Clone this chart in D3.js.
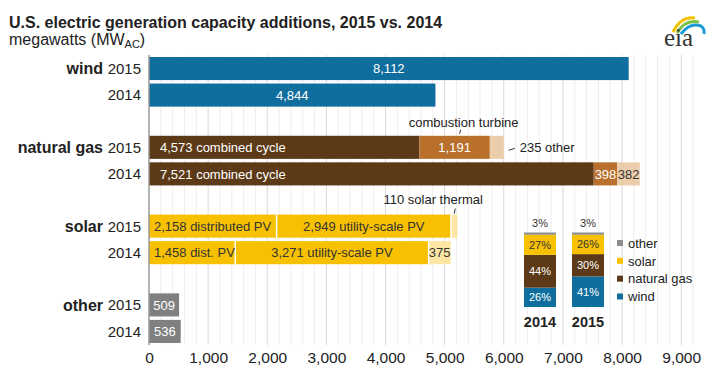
<!DOCTYPE html>
<html>
<head>
<meta charset="utf-8">
<script src="https://cdn.jsdelivr.net/npm/d3@7"></script>
<style>
  body { margin: 0; background: #fff; }
  text { font-family: "Liberation Sans", Arial, sans-serif; }
</style>
</head>
<body>
<div id="chart"></div>
<script>
// values (megawatts AC)
var categories = ["wind", "natural gas", "solar", "other"];
var years = ["2015", "2014"];

var windMW = [8112, 4844];
var gasCombinedCycle = [4573, 7521];
var gasTurbine = [1191, 398];
var gasOther = [235, 382];
var solarDistributed = [2158, 1458];
var solarUtility = [2949, 3271];
var solarThermal = [110, 375];
var otherMW = [509, 536];

var xTicks = [0, 1000, 2000, 3000, 4000, 5000, 6000, 7000, 8000, 9000];

// inset: share of total additions (%)
var shareYears = ["2014", "2015"];
var shareKeys = ["wind", "natural gas", "solar", "other"];
var shareWind = [26, 41];
var shareGas = [44, 30];
var shareSolar = [27, 26];
var shareOther = [3, 3];

function init(){
  var w = 720, h = 377;
  var fmt = d3.format(",");

  var col = {
    wind: "#0f6e9d",
    gasCC: "#5c3a17",
    gasCT: "#b8702c",
    gasOther: "#eccdab",
    solar: "#f7c102",
    solarLight: "#fde6a3",
    other: "#808080"
  };

  var svg = d3.select("#chart").append("svg")
    .attr("width", w)
    .attr("height", h);

  svg.append("text")
    .attr("x", 9).attr("y", 28)
    .style("font-size", "16px").style("font-weight", "bold").style("fill", "#222")
    .text("U.S. electric generation capacity additions, 2015 vs. 2014");

  var sub = svg.append("text")
    .attr("x", 9).attr("y", 45)
    .style("font-size", "16px").style("fill", "#222");
  sub.append("tspan").text("megawatts (MW");
  sub.append("tspan").attr("dy", 3).style("font-size", "11px").text("AC");
  sub.append("tspan").attr("dy", -3).text(")");

  // eia logo
  var logo = svg.append("g").attr("transform", "translate(664,10)");
  logo.append("path").attr("d", "M9,22 Q17,6 31,8").attr("fill", "none").attr("stroke", "#f2c200").attr("stroke-width", 3);
  logo.append("path").attr("d", "M13,23 Q21,9 35,12").attr("fill", "none").attr("stroke", "#7cc242").attr("stroke-width", 3);
  logo.append("path").attr("d", "M17,24 Q26,12 37,16 Q41,19 40,24").attr("fill", "none").attr("stroke", "#1c9ad6").attr("stroke-width", 3);
  logo.append("text").attr("x", 0).attr("y", 36)
    .style("font-family", "'Liberation Serif', 'DejaVu Serif', serif")
    .style("font-size", "25px").style("fill", "#333").text("eia");

  // scales
  var xScale = d3.scaleLinear().domain([0, 9200]).range([149, 693]);
  var yGroup = d3.scaleBand().domain(categories).range([57, 343]).paddingInner(0.37);
  var yYear = d3.scaleBand().domain(years).range([0, yGroup.bandwidth()]).paddingInner(0.13);

  // grid
  var gridVals = d3.range(200, 9201, 200);
  svg.append("g").selectAll("line")
    .data(gridVals)
    .enter().append("line")
    .attr("x1", function(d){ return xScale(d); })
    .attr("x2", function(d){ return xScale(d); })
    .attr("y1", 55).attr("y2", 345)
    .attr("stroke", function(d){ return d % 1000 === 0 ? "#d9d9d9" : "#ededed"; })
    .attr("stroke-width", 1);

  // rows of stacked segments
  function segmentsFor(cat, i){
    if (cat === "wind") return [
      {value: windMW[i], color: col.wind, text: fmt(windMW[i]), align: "middle", fill: "#fff"}
    ];
    if (cat === "natural gas") return [
      {value: gasCombinedCycle[i], color: col.gasCC, text: fmt(gasCombinedCycle[i]) + " combined cycle", align: "start", fill: "#fff"},
      {value: gasTurbine[i], color: col.gasCT, text: fmt(gasTurbine[i]), align: "middle", fill: "#fff"},
      {value: gasOther[i], color: col.gasOther, text: i === 1 ? fmt(gasOther[i]) : null, align: "middle", fill: "#333"}
    ];
    if (cat === "solar") return [
      {value: solarDistributed[i], color: col.solar, text: fmt(solarDistributed[i]) + (i === 0 ? " distributed PV" : " dist. PV"), align: "start", fill: "#333", line: true},
      {value: solarUtility[i], color: col.solar, text: fmt(solarUtility[i]) + " utility-scale PV", align: "middle", fill: "#333", line: true},
      {value: solarThermal[i], color: col.solarLight, text: i === 1 ? fmt(solarThermal[i]) : null, align: "middle", fill: "#333"}
    ];
    return [
      {value: otherMW[i], color: col.other, text: fmt(otherMW[i]), align: "middle", fill: "#fff"}
    ];
  }

  var rows = [];
  categories.forEach(function(cat){
    years.forEach(function(yr, yi){
      var parts = segmentsFor(cat, yi);
      var acc = 0;
      parts.forEach(function(p){ p.x0 = acc; acc += p.value; p.x1 = acc; });
      rows.push({cat: cat, year: yr, parts: parts, y: yGroup(cat) + yYear(yr)});
    });
  });

  var bh = yYear.bandwidth();

  var rowG = svg.append("g").selectAll("g")
    .data(rows)
    .enter().append("g")
    .attr("transform", function(d){ return "translate(0," + d.y + ")"; });

  rowG.selectAll("rect")
    .data(function(d){ return d.parts; })
    .enter().append("rect")
    .attr("x", function(d){ return xScale(d.x0); })
    .attr("width", function(d){ return xScale(d.x1) - xScale(d.x0); })
    .attr("y", 0)
    .attr("height", bh)
    .attr("fill", function(d){ return d.color; });

  // white separators between solar PV pieces
  rowG.selectAll("line.sep")
    .data(function(d){ return d.parts.filter(function(p){ return p.line; }); })
    .enter().append("line")
    .attr("class", "sep")
    .attr("x1", function(d){ return xScale(d.x1); })
    .attr("x2", function(d){ return xScale(d.x1); })
    .attr("y1", 0).attr("y2", bh)
    .attr("stroke", "#fff").attr("stroke-width", 1.5);

  rowG.selectAll("text.seg")
    .data(function(d){ return d.parts.filter(function(p){ return p.text; }); })
    .enter().append("text")
    .attr("class", "seg")
    .attr("x", function(d){
      if (d.align === "start") return xScale(d.x0) + (d.fill === "#fff" ? 11 : 5);
      return (xScale(d.x0) + xScale(d.x1)) / 2;
    })
    .attr("y", bh / 2)
    .attr("dy", "0.36em")
    .attr("text-anchor", function(d){ return d.align; })
    .style("font-size", "13px")
    .style("fill", function(d){ return d.fill; })
    .text(function(d){ return d.text; });

  // row labels
  rowG.append("text")
    .attr("x", 141)
    .attr("y", bh / 2)
    .attr("dy", "0.36em")
    .attr("text-anchor", "end")
    .style("font-size", "15px")
    .style("fill", "#222")
    .text(function(d){ return d.year; });

  rowG.filter(function(d){ return d.year === "2015"; })
    .append("text")
    .attr("x", 103)
    .attr("y", bh / 2)
    .attr("dy", "0.36em")
    .attr("text-anchor", "end")
    .style("font-size", "16px")
    .style("font-weight", "bold")
    .style("fill", "#222")
    .text(function(d){ return d.cat; });

  // y axis line
  svg.append("line")
    .attr("x1", xScale(0)).attr("x2", xScale(0))
    .attr("y1", 55).attr("y2", 345)
    .attr("stroke", "#9a9a9a").attr("stroke-width", 1.5);

  // annotations
  var gasY15 = yGroup("natural gas") + yYear("2015");
  var solarY15 = yGroup("solar") + yYear("2015");
  var ctMid = xScale(gasCombinedCycle[0] + gasTurbine[0] / 2);
  var gasEnd = xScale(gasCombinedCycle[0] + gasTurbine[0] + gasOther[0]);
  var thermMid = xScale(solarDistributed[0] + solarUtility[0] + solarThermal[0] / 2);

  var ann = svg.append("g").style("font-size", "13px").style("fill", "#222");
  ann.append("text").attr("x", ctMid + 9).attr("y", gasY15 - 13).attr("dy", "0.36em")
    .attr("text-anchor", "middle").text("combustion turbine");
  ann.append("line").attr("x1", ctMid + 6).attr("x2", ctMid + 5)
    .attr("y1", gasY15 - 6).attr("y2", gasY15 - 2).attr("stroke", "#333");
  ann.append("text").attr("x", gasEnd + 16).attr("y", bh / 2 + gasY15).attr("dy", "0.36em")
    .text(fmt(gasOther[0]) + " other");
  ann.append("line").attr("x1", gasEnd + 5).attr("x2", gasEnd + 11)
    .attr("y1", gasY15 + bh / 2 + 3).attr("y2", gasY15 + bh / 2 + 1).attr("stroke", "#333");
  ann.append("text").attr("x", thermMid - 21).attr("y", solarY15 - 15).attr("dy", "0.36em")
    .attr("text-anchor", "middle").text(fmt(solarThermal[0]) + " solar thermal");
  ann.append("line").attr("x1", thermMid + 1).attr("x2", thermMid)
    .attr("y1", solarY15 - 6).attr("y2", solarY15 - 1).attr("stroke", "#333");

  // x axis
  var xAxis = d3.axisBottom(xScale).tickValues(xTicks).tickFormat(fmt).tickSize(0).tickPadding(7);
  var ax = svg.append("g")
    .attr("transform", "translate(0,345)")
    .call(xAxis);
  ax.select(".domain").remove();
  ax.selectAll("text").style("font-size", "15.5px").style("fill", "#222")
    .style("font-family", "'Liberation Sans', Arial, sans-serif");

  // inset: share of additions
  var shareCol = {"wind": col.wind, "natural gas": col.gasCC, "solar": col.solar, "other": "#8c8c8c"};
  var shareVals = {"wind": shareWind, "natural gas": shareGas, "solar": shareSolar, "other": shareOther};
  var shareText = {"wind": "#fff", "natural gas": "#fff", "solar": "#333", "other": "#333"};

  var xShare = d3.scaleBand().domain(shareYears).range([524, 604]).paddingInner(0.333);
  var yShare = d3.scaleLinear().domain([0, 100]).range([307, 232.5]);

  var stackRows = shareYears.map(function(yr, i){
    var o = {year: yr};
    shareKeys.forEach(function(k){ o[k] = shareVals[k][i]; });
    return o;
  });
  var stacked = d3.stack().keys(shareKeys)(stackRows);

  var inset = svg.append("g");
  var layer = inset.selectAll("g.layer")
    .data(stacked)
    .enter().append("g")
    .attr("class", "layer");

  layer.selectAll("rect")
    .data(function(d){ return d.map(function(v){ return {key: d.key, v: v}; }); })
    .enter().append("rect")
    .attr("x", function(d){ return xShare(d.v.data.year); })
    .attr("width", xShare.bandwidth())
    .attr("y", function(d){ return yShare(d.v[1]); })
    .attr("height", function(d){ return yShare(d.v[0]) - yShare(d.v[1]); })
    .attr("fill", function(d){ return shareCol[d.key]; });

  layer.selectAll("text")
    .data(function(d){ return d.map(function(v){ return {key: d.key, v: v}; }); })
    .enter().append("text")
    .attr("x", function(d){ return xShare(d.v.data.year) + xShare.bandwidth() / 2; })
    .attr("y", function(d){
      if (d.key === "other") return yShare(d.v[1]) - 9;
      return (yShare(d.v[0]) + yShare(d.v[1])) / 2;
    })
    .attr("dy", "0.36em")
    .attr("text-anchor", "middle")
    .style("font-size", "11px")
    .style("fill", function(d){ return shareText[d.key]; })
    .text(function(d){ return (d.v[1] - d.v[0]) + "%"; });

  inset.selectAll("text.yr")
    .data(shareYears)
    .enter().append("text")
    .attr("class", "yr")
    .attr("x", function(d){ return xShare(d) + xShare.bandwidth() / 2; })
    .attr("y", 322)
    .attr("dy", "0.36em")
    .attr("text-anchor", "middle")
    .style("font-size", "14.5px")
    .style("font-weight", "bold")
    .style("fill", "#222")
    .text(function(d){ return d; });

  // legend
  var legendKeys = shareKeys.slice().reverse();
  var yLeg = d3.scalePoint().domain(legendKeys).range([243, 296.5]);
  var leg = inset.selectAll("g.leg")
    .data(legendKeys)
    .enter().append("g")
    .attr("class", "leg")
    .attr("transform", function(d){ return "translate(617," + yLeg(d) + ")"; });
  leg.append("rect").attr("x", 0).attr("y", -3).attr("width", 6).attr("height", 6)
    .attr("fill", function(d){ return shareCol[d]; });
  leg.append("text").attr("x", 11).attr("y", 0).attr("dy", "0.36em")
    .style("font-size", "13px").style("fill", "#222")
    .text(function(d){ return d; });
}

window.onload = init;
</script>
</body>
</html>
